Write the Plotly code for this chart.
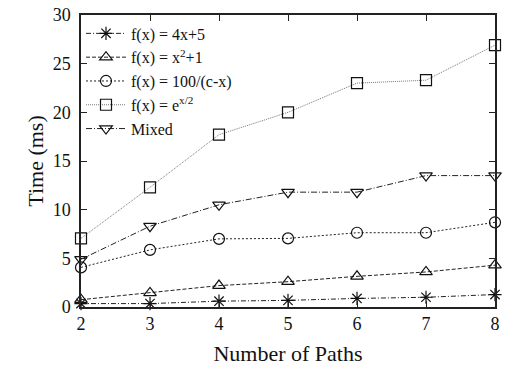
import plotly.graph_objects as go

paths = [2, 3, 4, 5, 6, 7, 8]
linear = [0.35, 0.35, 0.6, 0.68, 0.88, 1.0, 1.28]
quadratic = [0.75, 1.45, 2.2, 2.6, 3.15, 3.6, 4.3]
hyperbolic = [4.07, 5.87, 7.0, 7.05, 7.63, 7.63, 8.7]
exponential = [7.05, 12.3, 17.7, 20.0, 23.0, 23.3, 26.9]
mixed = [4.9, 8.3, 10.5, 11.8, 11.8, 13.5, 13.5]

names = ["f(x) = 4x+5", "f(x) = x<sup>2</sup>+1", "f(x) = 100/(c-x)",
         "f(x) = e<sup>x/2</sup>", "Mixed"]
series = [linear, quadratic, hyperbolic, exponential, mixed]
symbols = ["asterisk-open", "triangle-up-open", "circle-open", "square-open", "triangle-down-open"]
dashes = ["5px,2px,1px,2px", "4px,2px", "2px,2px", "1px,1px", "6px,2px,1px,2px"]
colors = ["#222222", "#222222", "#222222", "#777777", "#222222"]

fig = go.Figure()
for n, s, sym, d, c in zip(names, series, symbols, dashes, colors):
    fig.add_trace(go.Scatter(
        x=paths, y=s, name=n, mode="lines+markers",
        line=dict(color=c, width=1, dash=d),
        marker=dict(symbol=sym, size=11, color="#111111",
                    line=dict(width=1.2, color="#111111")),
        cliponaxis=False,
    ))

font = "Liberation Serif"
fig.update_layout(
    width=505, height=367,
    margin=dict(l=81, r=5, t=15, b=57),
    plot_bgcolor="white", paper_bgcolor="white",
    font=dict(family=font, size=18, color="#111111"),
    showlegend=True,
    legend=dict(x=0.0, y=0.995, xanchor="left", yanchor="top",
                bgcolor="rgba(0,0,0,0)", font=dict(size=16, family=font),
                tracegroupgap=0, itemwidth=40),
    xaxis=dict(range=[2, 8], tickvals=paths, ticks="inside", ticklen=6,
               showline=True, mirror="ticks", linecolor="#222222", linewidth=1.5,
               tickcolor="#222222", showgrid=False, zeroline=False,
               title=dict(text="Number of Paths", standoff=12)),
    yaxis=dict(range=[0, 30], tickvals=[0, 5, 10, 15, 20, 25, 30], ticks="inside",
               ticklen=6, showline=True, mirror="ticks", linecolor="#222222",
               linewidth=1.5, tickcolor="#222222", showgrid=False, zeroline=False,
               ticklabelstandoff=5,
               title=dict(text="Time (ms)", standoff=3)),
)
fig.write_html("out.html", config={"displayModeBar": False},
               post_script="document.body.style.margin='0';")
